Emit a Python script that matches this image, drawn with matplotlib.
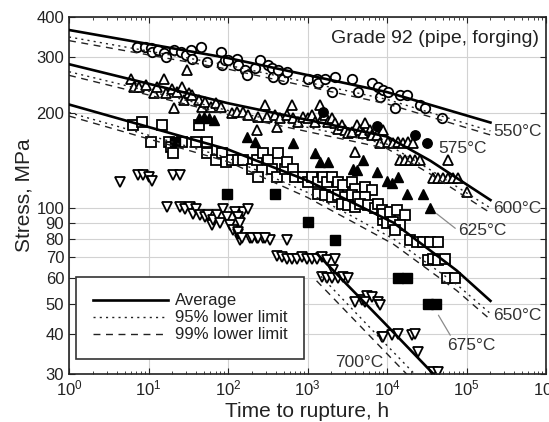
import matplotlib
matplotlib.use('Agg')
import matplotlib.pyplot as plt
from matplotlib.lines import Line2D
from matplotlib.ticker import NullLocator

plt.rcParams['font.family'] = ['Liberation Sans', 'DejaVu Sans']
plt.rcParams['mathtext.fontset'] = 'custom'
plt.rcParams['mathtext.rm'] = 'Liberation Sans'

# ---- rupture data (time h, stress MPa) ----
t550 = [7.2, 9.0, 10.6, 11.2, 13.3, 15.7, 16.4, 21, 25.4, 29.4, 34, 35.6, 45.4, 55, 81, 85, 92,
        101, 128, 135, 164, 172, 219, 253, 321, 355, 372, 430, 497, 547, 1023, 1305, 1368, 1660,
        2015, 2218, 3600, 4360, 6420, 7780, 8170, 9000, 10400, 12600, 14600, 17700, 26000, 30000, 48700]
s550 = [322, 322, 319, 311, 315, 307, 300, 315, 311, 303, 315, 296, 322, 289, 311, 282, 293,
        293, 296, 282, 272, 262, 276, 293, 282, 276, 259, 272, 256, 269, 256, 256, 247, 256,
        232, 259, 256, 232, 247, 241, 224, 235, 232, 206, 227, 227, 211, 206, 192]

t575 = [1585, 7420, 22500, 31600]
s575 = [201, 181, 170, 160]

t600 = [5.97, 6.6, 7.6, 9.2, 11.7, 12.9, 15.7, 16.8, 20, 21, 23, 26.6, 28, 30.8, 32.3, 35.6, 43, 47.5, 52, 60.5, 70, 81,
        111, 129, 156, 180, 229, 240, 292, 306, 390, 410, 451, 547, 632, 663, 766, 885, 1023, 1128,
        1242, 1436, 1507, 1660, 1828, 2015, 2218, 2443, 2690, 2965, 3260, 3600, 4160, 4570, 5040, 5290,
        6110, 6420, 7420, 8170, 9000, 3960,
        10400, 12000, 13900, 16000, 18500, 21400, 14600, 16800, 19500, 22500, 26000, 59000,
        38300, 44200, 51100, 59000, 68200, 78800, 100000]
s600 = [256, 241, 241, 244, 230, 241, 256, 230, 238, 206, 232, 241, 219, 272, 230, 227, 219, 208, 216, 208, 214, 208,
        199, 201, 201, 196, 176, 194, 211, 194, 196, 180, 192, 196, 211, 192, 187, 194, 192, 196,
        187, 211, 192, 196, 187, 192, 185, 178, 183, 176, 172, 174, 183, 176, 172, 185,
        176, 170, 170, 160, 176, 150,
        162, 160, 162, 160, 162, 160, 141.5, 141.5, 141.5, 141.5, 141.5, 141.5,
        124, 124, 124, 124, 124, 124, 112]

t625 = [43, 49.6, 57, 66, 172, 219, 663, 1242, 1436, 1828, 3770, 4160, 5040, 7420, 9900, 11450, 13900,
        17700, 28600, 34750]
s625 = [192, 194, 192, 189, 168, 162, 160, 148.6, 140, 140, 133, 131.6, 141.5, 130, 122, 120, 125,
        111, 111, 99.7]

t650 = [6.3, 8.2, 14.9, 10.6, 18.1, 19, 20.3, 26.6, 39, 43, 55, 55, 70, 85, 93,
        111, 135, 156, 199, 229, 240, 278, 321, 355, 410, 430, 521, 547, 663, 697, 885, 1023, 1128,
        1368, 1585, 1742, 2015, 2443, 2820, 3600, 3960, 5290, 6420,
        1368, 1660, 2015, 2443, 2965, 3600, 4360, 5290, 2690, 3260, 3960, 4570, 5820, 7060, 7780, 8570, 9000,
        9000, 10900, 13200, 16800, 9900, 12000, 14600, 12600, 19500, 23600, 28600, 34700, 44200,
        33100, 38300, 44200, 53700, 56400, 71600]
s650 = [183, 187, 183, 162, 162, 156, 148.6, 162, 162, 183, 162, 148.6, 141.5, 148.6, 140,
        141.5, 141.5, 141.5, 133, 141.5, 125, 148.6, 141.5, 133, 125, 148.6, 133, 140, 133, 125, 125, 121, 125,
        121, 125, 121, 125, 121, 118, 121, 115, 116.6, 114,
        111, 110, 108, 110, 108, 110, 108, 108, 103, 102, 101, 103, 102, 99.7, 103, 98.5, 91.6,
        96, 97, 98.5, 95, 89.5, 90.4, 88.3, 85, 79.2, 78.3, 78.3, 78.3, 78.3,
        68.5, 69.3, 68.5, 69.3, 60, 60]

t675 = [21.5, 96, 390, 1023, 2218, 13550, 17600, 32300, 41300]
s675 = [162, 111, 111, 90.4, 79.5, 60, 60, 49.7, 49.7]

t700 = [4.4, 7.4, 8.6, 10, 11, 20.5, 24.9,
        17, 25, 28.8, 33, 36.6, 40, 44.5, 51, 56.5, 62.4, 65, 72, 79, 87, 96, 106, 117, 128, 141, 135,
        156, 180, 189, 229, 278, 337, 410,
        122, 135, 141, 135, 149, 199, 240, 292, 547, 473, 547, 632, 731, 845, 977, 1128, 1304, 1507,
        1742, 2218, 2110,
        1507, 1742, 2015, 2443, 2820, 3260, 3960, 4810, 5560, 6420, 5290, 7780, 8570,
        8170, 9000, 11450, 13900, 20400, 22500, 24800, 38300, 44200]
s700 = [121, 127, 127, 125, 122, 127, 127,
        101, 101, 99.5, 101, 96, 99.5, 95, 94, 95, 88.3, 91.6, 95, 89.5, 99.5, 94, 88.3, 85, 96, 79.2, 83,
        97, 99.5, 80.2, 80.2, 80.2, 79.2, 70.5,
        97, 94, 89.5, 84, 80.2, 80.2, 80.2, 80.2, 79.2, 70, 69.3, 69.3, 69.3, 70, 69.3, 69.3, 69.3, 70,
        68.5, 69.3, 63.7,
        60.6, 60, 60, 60, 60.6, 60, 50.6, 51.3, 53, 52.5, 50.6, 50.6, 39.2,
        49.4, 39.2, 39.7, 40.2, 39.7, 40.2, 35.2, 30.4, 30.4]

# ---- fitted curves: average, 95% and 99% lower limits ----
fit550_t = [1, 100, 1e4, 2e5]
fit550_avg = [364, 297, 232, 186]
fit550_95 = [346, 282, 220, 175]
fit550_99 = [337, 274, 213, 170]

fit600_t = [1, 100, 1e4, 3.5e4, 2e5]
fit600_avg = [284, 214, 168, 141, 106]
fit600_95 = [269, 203, 159, 132, 100]
fit600_99 = [262, 197, 154, 128, 96.5]

fit650_t = [1, 100, 1000, 4000, 1.2e4, 7.5e4, 2e5]
fit650_avg = [212, 153, 122, 103, 90, 63.6, 51]
fit650_95 = [200, 144, 112, 93, 80, 57.5, 46.5]
fit650_99 = [195, 140, 108, 89.5, 77, 55, 44.5]

fit700_t = [1300, 9400, 5e4]
fit700_avg = [72, 43.3, 28]
fit700_95 = [63, 37.5, 24.3]
fit700_99 = [59, 35.3, 22.9]

ytick_vals = [30, 40, 50, 60, 70, 80, 90, 100, 200, 300, 400]

fig = plt.figure(figsize=(5.49, 4.22), dpi=100)
ax = fig.add_axes([0.1257, 0.1137, 0.8689, 0.846])
ax.set_xscale('log')
ax.set_yscale('log')

open_kw = dict(ls='none', mfc='white', mec='black', mew=1.3, zorder=2)
fill_kw = dict(ls='none', mfc='black', mec='black', mew=1.0, zorder=2)
ax.plot(t550, s550, marker='o', ms=6.8, **open_kw)
ax.plot(t600, s600, marker='^', ms=7.3, **open_kw)
ax.plot(t650, s650, marker='s', ms=6.6, **open_kw)
ax.plot(t700, s700, marker='v', ms=7.3, **open_kw)
ax.plot(t575, s575, marker='o', ms=6.8, **fill_kw)
ax.plot(t625, s625, marker='^', ms=7.3, **fill_kw)
ax.plot(t675, s675, marker='s', ms=7.0, **fill_kw)

avg_kw = dict(color='black', lw=1.9, ls='-', zorder=3)
l95_kw = dict(color='#222222', lw=1.0, ls=(0, (1.5, 3.0)), zorder=3)
l99_kw = dict(color='#222222', lw=1.0, ls=(0, (5, 4)), zorder=3)
for tt, avg, l95, l99 in [(fit550_t, fit550_avg, fit550_95, fit550_99),
                          (fit600_t, fit600_avg, fit600_95, fit600_99),
                          (fit650_t, fit650_avg, fit650_95, fit650_99),
                          (fit700_t, fit700_avg, fit700_95, fit700_99)]:
    ax.plot(tt, avg, **avg_kw)
    ax.plot(tt, l95, **l95_kw)
    ax.plot(tt, l99, **l99_kw)

ax.set_xlim(1, 1e6)
ax.set_ylim(30, 400)
ax.set_yticks(ytick_vals)
ax.set_yticklabels([str(v) for v in ytick_vals])
ax.yaxis.set_minor_locator(NullLocator())
ax.tick_params(which='both', direction='in', top=True, right=True, labelsize=12, colors='#222222')
ax.tick_params(which='major', length=4)
ax.tick_params(which='minor', length=2.5)
ax.grid(True, which='major', color='#d2d2d2', lw=0.8, zorder=0)
ax.set_axisbelow(True)
for sp in ax.spines.values():
    sp.set_linewidth(1.2)
    sp.set_color('#222222')

ax.set_xlabel('Time to rupture, h', fontsize=15, color='#222222', labelpad=2)
ax.set_ylabel('Stress, MPa', fontsize=15, color='#222222', labelpad=2)

ax.text(0.985, 0.94, 'Grade 92 (pipe, forging)', transform=ax.transAxes,
        ha='right', va='center', fontsize=14, color='#222222')

lab_kw = dict(fontsize=12.5, color='#333333', va='center', ha='left')
ax.text(2.15e5, 174, '550°C', **lab_kw)
ax.text(4.38e4, 154, '575°C', **lab_kw)
ax.text(2.15e5, 99.8, '600°C', **lab_kw)
ax.text(2.15e5, 45.9, '650°C', **lab_kw)
ax.text(2218, 32.7, '700°C', **lab_kw)
ax.annotate('625°C', xy=(37900, 98), xytext=(78200, 85), **lab_kw,
            arrowprops=dict(arrowstyle='-', color='#8a8a8a', lw=0.9, shrinkA=0, shrinkB=3,
                            relpos=(0, 0.5)))
ax.annotate('675°C', xy=(40000, 48), xytext=(56900, 36.9), **lab_kw,
            arrowprops=dict(arrowstyle='-', color='#8a8a8a', lw=0.9, shrinkA=0, shrinkB=5,
                            relpos=(0.1, 1.0)))

handles = [Line2D([], [], **{k: v for k, v in avg_kw.items() if k != 'zorder'}),
           Line2D([], [], **{k: v for k, v in l95_kw.items() if k != 'zorder'}),
           Line2D([], [], **{k: v for k, v in l99_kw.items() if k != 'zorder'})]
leg = ax.legend(handles, ['Average', '95% lower limit', '99% lower limit'],
                loc='lower left', bbox_to_anchor=(0.0147, 0.042), borderaxespad=0,
                fontsize=12, handlelength=4.5, handletextpad=0.45, labelspacing=0.12,
                borderpad=1.0, fancybox=False, framealpha=1)
leg.get_frame().set_edgecolor('#333333')
leg.get_frame().set_linewidth(1.2)
for txt in leg.get_texts():
    txt.set_color('#222222')

fig.savefig('out.png', dpi=100)
